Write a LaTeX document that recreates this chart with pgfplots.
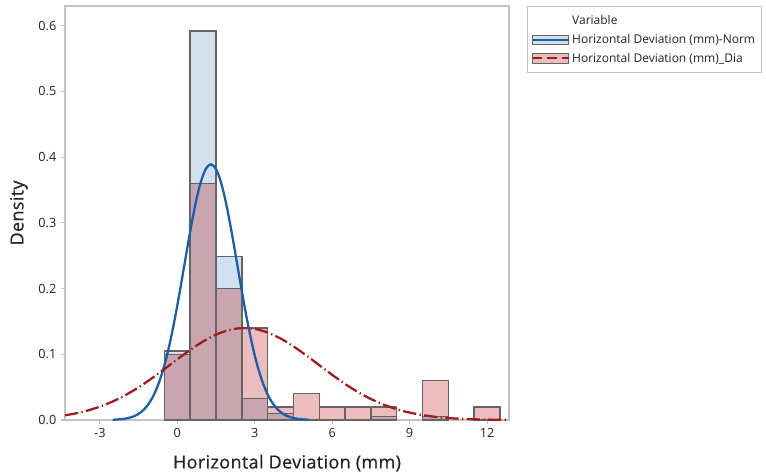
\documentclass[border=0pt]{standalone}
\usepackage{fontspec}
\setmainfont{Open Sans}
\newfontfamily\semib[FakeBold=0.6, LetterSpace=2]{Open Sans}
\usepackage{pgfplots}
\pgfplotsset{compat=1.18}
\definecolor{normfill}{RGB}{211,224,240}
\definecolor{diafill}{RGB}{237,189,189}
\definecolor{overfill}{RGB}{201,165,175}
\definecolor{barline}{RGB}{100,100,100}
\definecolor{normblue}{RGB}{22,94,176}
\definecolor{diared}{RGB}{165,25,25}
\definecolor{framegray}{RGB}{195,195,195}
\definecolor{txt}{RGB}{35,35,35}
\begin{document}
\begin{tikzpicture}
\begin{axis}[
  scale only axis,
  width=333pt, height=310.5pt,
  xmin=-4.35, xmax=12.85,
  ymin=0, ymax=0.63,
  xtick={-3,0,3,6,9,12},
  ytick={0,0.1,0.2,0.3,0.4,0.5,0.6},
  yticklabel style={/pgf/number format/.cd, fixed, fixed zerofill, precision=1},
  /pgf/number format/assume math mode=true,
  tick align=outside,
  xtick pos=left, ytick pos=left,
  major tick length=3pt,
  tick style={framegray, line width=0.8pt},
  axis line style={framegray, line width=1.1pt},
  ticklabel style={font=\fontsize{9.5}{11}\selectfont, text=txt},
  xlabel={Horizontal Deviation (mm)},
  ylabel={Density},
  every axis x label/.style={at={(axis description cs:0.5,-0.1039)}, anchor=center,
    font=\semib\fontsize{13.5}{15}\selectfont, text=txt},
  every axis y label/.style={at={(axis description cs:-0.1036,0.5)}, anchor=center, rotate=90,
    font=\semib\fontsize{13.5}{15}\selectfont, text=txt},
  legend style={at={(1.0405,1)}, anchor=north west, draw=framegray, line width=0.8pt,
    font=\fontsize{9}{11}\selectfont, text=txt, legend cell align=left,
    row sep=1.8pt, inner xsep=3pt, inner ysep=4.5pt},
  clip=true,
]
% legend entries
\addlegendimage{empty legend}
\addlegendentry{Variable}
\addlegendimage{legend image code/.code={
  \draw[fill=normfill, draw=barline, line width=0.5pt] (0pt,-3.5pt) rectangle (27pt,3.5pt);
  \draw[normblue, line width=1.5pt] (0pt,0pt) -- (27pt,0pt);}}
\addlegendentry{Horizontal Deviation (mm)-Norm}
\addlegendimage{legend image code/.code={
  \draw[fill=diafill, draw=barline, line width=0.5pt] (0pt,-3.5pt) rectangle (27pt,3.5pt);
  \draw[diared, line width=1.5pt, dash pattern=on 7pt off 4pt] (0pt,0pt) -- (27pt,0pt);}}
\addlegendentry{Horizontal Deviation (mm)\_Dia}

% Norm histogram
\addplot[ybar, bar width=1, bar shift=0pt, fill=normfill, draw=barline, line width=1.1pt, forget plot]
  coordinates {(0,0.105) (1,0.592) (2,0.249) (3,0.033) (4,0.010) (8,0.005) (10,0.005)};
% Dia histogram
\addplot[ybar, bar width=1, bar shift=0pt, fill=diafill, draw=barline, line width=1.1pt, forget plot]
  coordinates {(0,0.10) (1,0.36) (2,0.20) (3,0.14) (4,0.02) (5,0.04) (6,0.02) (7,0.02) (8,0.02) (10,0.06) (12,0.02)};
% overlap of both
\addplot[ybar, bar width=1, bar shift=0pt, fill=overfill, draw=barline, line width=1.1pt, forget plot]
  coordinates {(0,0.10) (1,0.36) (2,0.20) (3,0.033) (4,0.010) (8,0.005) (10,0.005)};

% Norm fitted curve
\addplot[normblue, line width=1.7pt, smooth, forget plot] coordinates {
(-2.5,0.00040) (-2.3,0.00082) (-2.1,0.00159) (-1.9,0.00298) (-1.7,0.00537) (-1.5,0.00933)
(-1.3,0.01560) (-1.1,0.02510) (-0.9,0.03889) (-0.7,0.05800) (-0.5,0.08328) (-0.3,0.11510)
(-0.1,0.15313) (0.1,0.19613) (0.3,0.24182) (0.5,0.28701) (0.7,0.32792) (0.9,0.36066)
(1.1,0.38186) (1.3,0.38920) (1.5,0.38186) (1.7,0.36066) (1.9,0.32792) (2.1,0.28701)
(2.3,0.24182) (2.5,0.19613) (2.7,0.15313) (2.9,0.11510) (3.1,0.08328) (3.3,0.05800)
(3.5,0.03889) (3.7,0.02510) (3.9,0.01560) (4.1,0.00933) (4.3,0.00537) (4.5,0.00298)
(4.7,0.00159) (4.9,0.00082) (5.1,0.00040)};

% Dia fitted curve
\addplot[diared, line width=1.7pt, smooth, dash pattern=on 10pt off 2.5pt on 1pt off 2.5pt, forget plot] coordinates {
(-4.35,0.00716) (-4,0.00958) (-3.5,0.01417) (-3,0.02031) (-2.5,0.02823) (-2,0.03806)
(-1.5,0.04974) (-1,0.06304) (-0.5,0.07747) (0,0.09233) (0.5,0.10670) (1,0.11957)
(1.5,0.12993) (2,0.13691) (2.5,0.13989) (3,0.13861) (3.5,0.13317) (4,0.12407)
(4.5,0.11209) (5,0.09819) (5.5,0.08341) (6,0.06871) (6.5,0.05488) (7,0.04251)
(7.5,0.03193) (8,0.02325) (8.5,0.01642) (9,0.01125) (9.5,0.00747) (10,0.00481)
(10.5,0.00300) (11,0.00182) (11.5,0.00107) (12,0.00061) (12.5,0.00034) (12.85,0.00022)};
\end{axis}
\pgfresetboundingbox
\path[use as bounding box] (-48.75pt,-41.25pt) rectangle (525.75pt,315pt);
\end{tikzpicture}
\end{document}
